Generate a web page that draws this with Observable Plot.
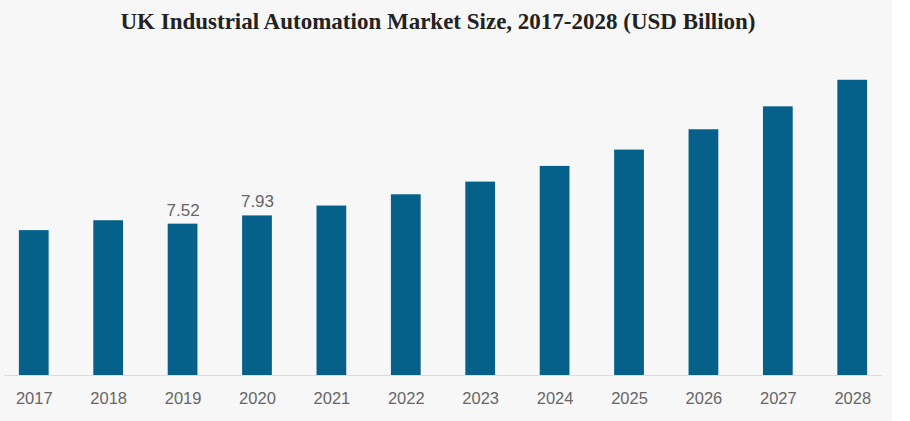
<!DOCTYPE html>
<html>
<head>
<meta charset="utf-8">
<script src="https://cdn.jsdelivr.net/npm/d3@7"></script>
<script src="https://cdn.jsdelivr.net/npm/@observablehq/plot@0.6"></script>
<style>
  html, body { margin: 0; padding: 0; background: #ffffff; }
  #wrap { width: 892px; height: 421px; background: #f7f7f7; overflow: hidden; }
  #title { height: 44px; line-height: 44px; text-align: center; padding-right: 16px;
    font-family: "Liberation Serif", "DejaVu Serif", serif; font-weight: bold; font-size: 23px; color: #222; }
</style>
</head>
<body>
<div id="wrap">
  <div id="title">UK Industrial Automation Market Size, 2017-2028 (USD Billion)</div>
  <div id="chart"></div>
</div>
<script>
const years = ["2017","2018","2019","2020","2021","2022","2023","2024","2025","2026","2027","2028"];
const values = [7.20, 7.69, 7.52, 7.93, 8.42, 8.98, 9.61, 10.39, 11.20, 12.21, 13.35, 14.67];
const valueLabels = ["", "", "7.52", "7.93", "", "", "", "", "", "", "", ""];

const data = years.map((y, i) => ({year: y, value: values[i], label: valueLabels[i]}));

const chart = Plot.plot({
  width: 892,
  height: 377,
  marginTop: 9,
  marginBottom: 46,
  marginLeft: 4,
  marginRight: 10,
  style: {background: "transparent", fontFamily: "'Liberation Sans', Arial, sans-serif"},
  x: {domain: years, paddingInner: 0.6, paddingOuter: 0.2, round: false, label: null},
  y: {domain: [0, 16], axis: null},
  marks: [
    Plot.ruleY([0], {stroke: "#dcdcdc", strokeWidth: 1}),
    Plot.barY(data, {x: "year", y: "value", fill: "#05608a"}),
    Plot.text(data.filter(d => d.label), {x: "year", y: "value", text: "label", dy: -14,
      fill: "#666", fontSize: 17}),
    Plot.axisX({tickSize: 0, tickPadding: 17, fontSize: 16.5, color: "#666", label: null})
  ]
});
document.getElementById("chart").appendChild(chart);
</script>
</body>
</html>
